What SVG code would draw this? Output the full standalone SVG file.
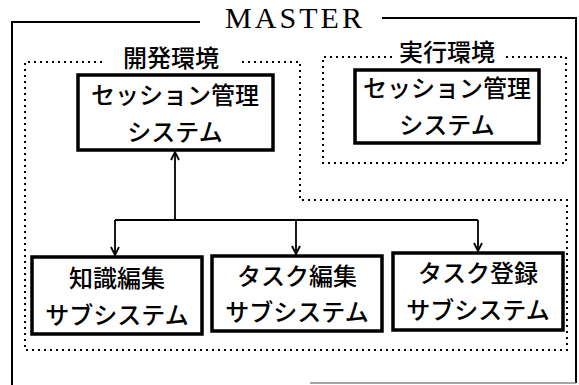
<svg xmlns="http://www.w3.org/2000/svg" width="579" height="385" viewBox="0 0 579 385">
<style>
.frame{fill:none;stroke:#000;stroke-width:2}
.dot{fill:none;stroke:#000;stroke-width:2;stroke-dasharray:2 4}
.box{fill:#fff;stroke:#000;stroke-width:3.5}
.jp{font-family:"Noto Sans CJK JP","Noto Sans",sans-serif;font-size:24px;font-weight:500;text-anchor:middle;fill:#000}
.title{font-family:"Liberation Serif",serif;font-size:30px;fill:#000}
.conn{fill:none;stroke:#000;stroke-width:1.8}
</style>
<defs>
<marker id="arr" viewBox="0 0 10 10" refX="9" refY="5" markerWidth="10" markerHeight="10" markerUnits="userSpaceOnUse" orient="auto">
<path d="M1,1 L9,5 L1,9" fill="none" stroke="#000" stroke-width="1.8"/>
</marker>
</defs>
<g id="master">
<path class="frame" d="M200,22 H12 V385"/>
<path class="frame" d="M382,18 H576 V383"/>
<path d="M310,383 H576" stroke="#888" stroke-width="1.5"/>
<text class="title" x="225" y="28" textLength="137" lengthAdjust="spacing">MASTER</text>
</g>
<g id="dev-env">
<path class="dot" d="M102,62 H25 V350 H567 V200 H300 V62 H240"/>
<text class="jp" x="171" y="67">開発環境</text>
</g>
<g id="exec-env">
<path class="dot" d="M392,57 H323 V163 H566 V57 H505"/>
<text class="jp" x="447" y="61">実行環境</text>
</g>
<g id="dev-session">
<rect class="box" x="78" y="75" width="195" height="75"/>
<text class="jp" x="175" y="104">セッション管理</text>
<text class="jp" x="175" y="141">システム</text>
</g>
<g id="exec-session">
<rect class="box" x="355" y="70" width="184" height="73"/>
<text class="jp" x="447" y="97">セッション管理</text>
<text class="jp" x="447" y="134">システム</text>
</g>
<g id="knowledge-edit">
<rect class="box" x="32" y="257" width="170" height="77"/>
<text class="jp" x="117" y="287">知識編集</text>
<text class="jp" x="117" y="324">サブシステム</text>
</g>
<g id="task-edit">
<rect class="box" x="212" y="256" width="170" height="75"/>
<text class="jp" x="297" y="285">タスク編集</text>
<text class="jp" x="297" y="321">サブシステム</text>
</g>
<g id="task-register">
<rect class="box" x="393" y="253" width="170" height="77"/>
<text class="jp" x="478" y="282">タスク登録</text>
<text class="jp" x="478" y="319">サブシステム</text>
</g>
<g id="connectors">
<path class="conn" d="M175,220 V152" marker-end="url(#arr)"/>
<path class="conn" d="M115,220 H478"/>
<path class="conn" d="M115,220 V255" marker-end="url(#arr)"/>
<path class="conn" d="M296,220 V254" marker-end="url(#arr)"/>
<path class="conn" d="M478,220 V251" marker-end="url(#arr)"/>
</g>
</svg>
